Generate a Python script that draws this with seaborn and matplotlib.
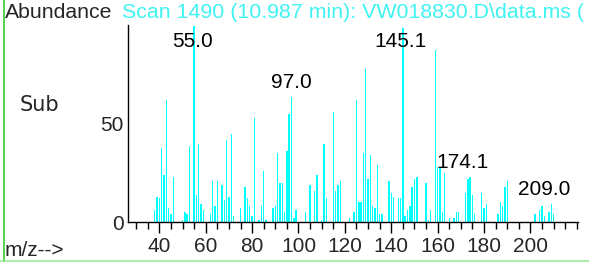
import seaborn as sns
import matplotlib.pyplot as plt
import pandas as pd

# peak list (m/z, relative abundance)
mz = [38, 39, 40, 41, 42, 43, 44, 45, 46, 50, 51, 52, 53, 55, 56, 57, 58, 59,
      62, 63, 64, 65, 67, 68, 69, 70, 71, 72, 75, 77, 78, 79, 80, 81, 83, 84,
      85, 86, 89, 90, 91, 92, 93, 94, 95, 96, 97, 98, 99, 103, 105, 107, 108,
      110, 111, 112, 115, 116, 117, 118, 122, 124, 125, 126, 127, 128, 129,
      130, 131, 132, 133, 134, 135, 136, 139, 140, 141, 143, 144, 145, 146,
      147, 148, 149, 150, 151, 155, 156, 157, 159, 160, 161, 162, 163, 165,
      167, 168, 169, 172, 173, 174, 175, 176, 179, 180, 181, 186, 187, 188,
      189, 190, 202, 204, 205, 206, 208, 209, 210]
abundance = [6, 13, 12, 38, 24, 62, 7, 4, 23, 1, 5, 4, 39, 100, 14, 40, 9, 6,
             4, 21, 8, 21, 19, 11, 42, 13, 45, 3, 7, 18, 12, 8, 3, 53, 1, 8,
             26, 1, 7, 8, 35, 20, 20, 5, 36, 55, 64, 2, 6, 5, 19, 16, 24,
             1, 40, 12, 56, 16, 19, 21, 2, 5, 62, 10, 10, 35, 78,
             22, 34, 8, 7, 29, 4, 4, 21, 15, 13, 12, 12, 99, 3,
             6, 8, 18, 22, 23, 20, 1, 6, 88, 28, 28, 5, 25, 2,
             2, 5, 5, 15, 22, 23, 14, 4, 15, 7, 9, 4, 10, 8,
             18, 21, 4, 6, 8, 3, 5, 9, 4]

peak_labels = ['55.0', '97.0', '145.1', '174.1', '209.0']
peak_mz = [55, 97, 145, 174, 209]
label_x = [54.5, 97, 144, 170.5, 206]

title = 'Scan 1490 (10.987 min): VW018830.D\\data.ms ('
xticks = [40, 60, 80, 100, 120, 140, 160, 180, 200]
yticks = [0, 50]

df = pd.DataFrame({'mz': mz, 'abundance': abundance})

sns.set_theme(style='white')
plt.rcParams['font.family'] = ['Liberation Sans', 'DejaVu Sans']

W, H = 589, 262
fig = plt.figure(figsize=(W / 100, H / 100), dpi=100)
ax = fig.add_axes([128 / W, 40 / H, 450 / W, 197 / H])

sns.histplot(data=df, x='mz', weights='abundance', discrete=True, shrink=0.62,
             color='#00FFFF', alpha=1, linewidth=0, edgecolor='none', ax=ax)

# peak annotations
for lab, m, lx in zip(peak_labels, peak_mz, label_x):
    h = df.loc[df.mz == m, 'abundance'].iloc[0]
    ax.text(lx, min(h + 2.5, 87), lab, ha='center', va='bottom',
            fontsize=15, color='black')

ax.set_xlim(26.5, 220.5)
ax.set_ylim(0, 100.5)
ax.set_xlabel('')
ax.set_ylabel('')
ax.set_xticks(xticks)
ax.set_xticks(range(30, 221, 5), minor=True)
ax.set_yticks(yticks)
ax.tick_params(axis='x', which='major', direction='out', length=8, width=1,
               color='black', labelsize=15, pad=3, bottom=True)
ax.tick_params(axis='x', which='minor', direction='out', length=5, width=1,
               color='black', bottom=True)
ax.tick_params(axis='y', direction='out', length=0, labelsize=15, pad=3, left=True)
for side in ['top', 'right']:
    ax.spines[side].set_visible(False)
for side in ['left', 'bottom']:
    ax.spines[side].set_color('black')
    ax.spines[side].set_linewidth(1)
ax.patch.set_alpha(0)

fig.text(5 / W, 1 - 12 / H, 'Abundance', fontsize=15.3, va='center', ha='left')
fig.text(122 / W, 1 - 13 / H, title, fontsize=15.4, va='center', ha='left',
         color='#3FF3F3')
fig.text(20 / W, 1 - 105 / H, 'Sub', fontsize=15, va='center', ha='left',
         family='DejaVu Sans')
fig.text(5 / W, 1 - 250 / H, 'm/z-->', fontsize=15, va='center', ha='left')

# window border lines
fig.add_artist(plt.Line2D([4 / W, 4 / W], [0, 1], color='#33CC33', lw=1.2))
fig.add_artist(plt.Line2D([0, 1], [1.5 / H, 1.5 / H], color='#99EE99', lw=1.2))

plt.savefig('out.png', dpi=100)
